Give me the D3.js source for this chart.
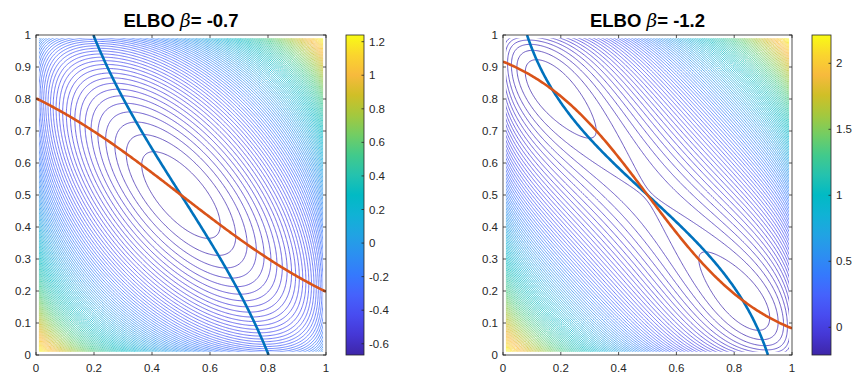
<!DOCTYPE html>
<html><head><meta charset="utf-8">
<script src="https://cdn.jsdelivr.net/npm/d3@7"></script>
<style>
body{margin:0;background:#fff}
svg{display:block}
text{font-family:Arial,"Liberation Sans",Helvetica,sans-serif}
</style>
</head><body>
<svg id="chart" width="852" height="374"></svg>
<script>
// ---- data ----
const betas = [-0.7, -1.2];                 // coupling in each panel title
const titleLabels = ["ELBO ", "ELBO "];
const xTicks = [0, 0.2, 0.4, 0.6, 0.8, 1];
const yTicks = [0, 0.1, 0.2, 0.3, 0.4, 0.5, 0.6, 0.7, 0.8, 0.9, 1];
const cbTicksLeft = [-0.6, -0.4, -0.2, 0, 0.2, 0.4, 0.6, 0.8, 1, 1.2];
const cbTicksRight = [0, 0.5, 1, 1.5, 2];
const levelCount = 100;       // number of contour levels
const sourceGridN = 100;      // sample grid of the original figure (edges undefined)
// parula colormap stops (every 16th entry of the 256-colour map)
const parulaC = [[0.2422,0.1504,0.6603],[0.2704,0.2138,0.8346],[0.2813,0.2985,0.9397],[0.2710,0.3860,0.9898],
  [0.2066,0.4743,0.9926],[0.1740,0.5605,0.9432],[0.1288,0.6408,0.8910],[0.0628,0.6972,0.8355],
  [0.0046,0.7301,0.7688],[0.1448,0.7593,0.6812],[0.2589,0.7937,0.5454],[0.4463,0.8024,0.3904],
  [0.6433,0.7839,0.2423],[0.8172,0.7505,0.1535],[0.9689,0.7292,0.2373],[0.9807,0.8342,0.1787],[0.9769,0.9839,0.0805]];
const parulaT = parulaC.map((c, i) => i/(parulaC.length - 1));

// ---- model: mean-field objective of two coupled binary units ----
const H = q => -q*Math.log(q) - (1-q)*Math.log(1-q);
const field = (x, y, b) => -b*(1 + (2*x-1)*(2*y-1)) - H(x) - H(y);
const sig = z => 1/(1+Math.exp(-z));
const update = (q, b) => sig(-2*b*(1-2*q));

const parula = d3.scaleLinear().domain(parulaT)
  .range(parulaC.map(c => d3.rgb(c[0]*255, c[1]*255, c[2]*255).formatHex()))
  .interpolate(d3.interpolateRgb).clamp(true);

const svg = d3.select("#chart");
const defs = svg.append("defs");
const ink = "#262626";

const panels = [
  {beta: betas[0], title: titleLabels[0], x0: 36, x1: 326, cbx: 346, cbw: 18, cbTicks: cbTicksLeft},
  {beta: betas[1], title: titleLabels[1], x0: 503, x1: 792, cbx: 812, cbw: 19, cbTicks: cbTicksRight}
];
const yTop = 35, yBot = 355;

const grad = defs.append("linearGradient").attr("id", "parulaGrad")
  .attr("x1", 0).attr("y1", 1).attr("x2", 0).attr("y2", 0);
parulaT.forEach((t, i) => grad.append("stop").attr("offset", t).attr("stop-color", parula(t)));

panels.forEach((p, pi) => {
  const xs = d3.scaleLinear().domain([0, 1]).range([p.x0, p.x1]);
  const ys = d3.scaleLinear().domain([0, 1]).range([yBot, yTop]);

  // level range from the original sampling grid
  const qs = d3.range(1, sourceGridN - 1).map(k => k/(sourceGridN - 1));
  let vmin = Infinity, vmax = -Infinity;
  qs.forEach(x => qs.forEach(y => { const v = field(x, y, p.beta); if (v < vmin) vmin = v; if (v > vmax) vmax = v; }));
  const levels = d3.range(1, levelCount + 1).map(i => vmin + i*(vmax - vmin)/(levelCount + 1));
  const cmin = levels[0], cmax = levels[levels.length - 1];
  const color = v => parula((v - cmin)/(cmax - cmin));

  // fine grid for contouring
  const n = 260;
  const lo = qs[0], hi = qs[qs.length - 1];
  const s = (hi - lo)/(n - 3);
  const a = lo - s;
  const values = new Float64Array(n*n);
  for (let j = 0; j < n; j++) {
    const y = a + j*s;
    for (let i = 0; i < n; i++) values[j*n + i] = field(a + i*s, y, p.beta);
  }
  const contours = d3.contours().size([n, n]).thresholds(levels)(values);
  const path = d3.geoPath(d3.geoTransform({
    point(px, py) { this.stream.point(xs(a + (px - 0.5)*s), ys(a + (py - 0.5)*s)); }
  }));

  const clipId = "clip" + pi;
  defs.append("clipPath").attr("id", clipId).append("rect")
    .attr("x", xs(lo)).attr("y", ys(hi)).attr("width", xs(hi) - xs(lo)).attr("height", ys(lo) - ys(hi));
  const axClip = "axclip" + pi;
  defs.append("clipPath").attr("id", axClip).append("rect")
    .attr("x", p.x0).attr("y", yTop).attr("width", p.x1 - p.x0).attr("height", yBot - yTop);

  svg.append("g").attr("clip-path", `url(#${clipId})`)
    .selectAll("path").data(contours).join("path")
    .attr("d", path).attr("fill", "none")
    .attr("stroke", d => color(d.value)).attr("stroke-width", 0.85).attr("stroke-opacity", 0.9);

  // fixed-point curves
  const ts = d3.range(0, 1.0001, 0.005);
  const line = d3.line().x(d => xs(d[0])).y(d => ys(d[1]));
  const gCurves = svg.append("g").attr("clip-path", `url(#${axClip})`);
  gCurves.append("path").attr("d", line(ts.map(y => [update(y, p.beta), y])))
    .attr("fill", "none").attr("stroke", "#0072BD").attr("stroke-width", 2.6);
  gCurves.append("path").attr("d", line(ts.map(x => [x, update(x, p.beta)])))
    .attr("fill", "none").attr("stroke", "#D95319").attr("stroke-width", 2.6);

  // axes box and ticks
  const gAx = svg.append("g");
  gAx.append("rect").attr("x", p.x0).attr("y", yTop).attr("width", p.x1 - p.x0).attr("height", yBot - yTop)
    .attr("fill", "none").attr("stroke", ink).attr("stroke-width", 0.8);
  const tl = 3;
  xTicks.forEach(t => {
    const x = xs(t);
    gAx.append("line").attr("x1", x).attr("x2", x).attr("y1", yBot).attr("y2", yBot - tl).attr("stroke", ink).attr("stroke-width", 0.8);
    gAx.append("line").attr("x1", x).attr("x2", x).attr("y1", yTop).attr("y2", yTop + tl).attr("stroke", ink).attr("stroke-width", 0.8);
    gAx.append("text").attr("x", x).attr("y", yBot + 17).attr("text-anchor", "middle")
      .attr("font-size", 11.5).attr("fill", ink).text(d3.format("~g")(t));
  });
  yTicks.forEach(t => {
    const y = ys(t);
    gAx.append("line").attr("x1", p.x0).attr("x2", p.x0 + tl).attr("y1", y).attr("y2", y).attr("stroke", ink).attr("stroke-width", 0.8);
    gAx.append("line").attr("x1", p.x1).attr("x2", p.x1 - tl).attr("y1", y).attr("y2", y).attr("stroke", ink).attr("stroke-width", 0.8);
    gAx.append("text").attr("x", p.x0 - 5).attr("y", y + 4).attr("text-anchor", "end")
      .attr("font-size", 11.5).attr("fill", ink).text(d3.format("~g")(t));
  });

  // title
  const title = svg.append("text").attr("x", (p.x0 + p.x1)/2).attr("y", 27).attr("text-anchor", "middle")
    .attr("font-size", 18.5).attr("font-weight", "bold").attr("fill", "#000");
  title.append("tspan").text(p.title);
  title.append("tspan").attr("font-style", "italic").attr("font-weight", "normal")
    .attr("font-family", "'DejaVu Serif','Liberation Serif',serif").text("β");
  title.append("tspan").text("= " + d3.format("~g")(p.beta).replace("−", "-"));

  // colorbar
  const cs = d3.scaleLinear().domain([cmin, cmax]).range([yBot, yTop]);
  const gCb = svg.append("g");
  gCb.append("rect").attr("x", p.cbx).attr("y", yTop).attr("width", p.cbw).attr("height", yBot - yTop)
    .attr("fill", "url(#parulaGrad)").attr("stroke", ink).attr("stroke-width", 0.8);
  p.cbTicks.forEach(t => {
    const y = cs(t);
    gCb.append("line").attr("x1", p.cbx + p.cbw).attr("x2", p.cbx + p.cbw - 2.5).attr("y1", y).attr("y2", y)
      .attr("stroke", ink).attr("stroke-width", 0.8);
    gCb.append("text").attr("x", p.cbx + p.cbw + 5).attr("y", y + 4).attr("font-size", 11.5).attr("fill", ink)
      .text(d3.format("~g")(t).replace("−", "-"));
  });
});
</script>
</body></html>
